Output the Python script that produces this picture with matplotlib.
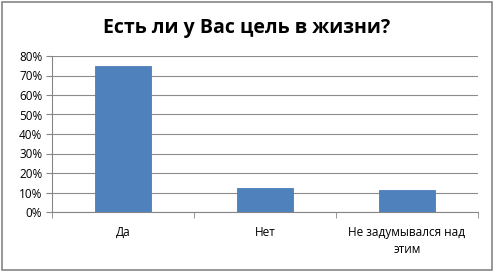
import numpy as np
import matplotlib.pyplot as plt
from matplotlib.patches import Rectangle

categories = ['Да', 'Нет', 'Не задумывался над\nэтим']
values = [75, 12.5, 11.5]

plt.rcParams['font.family'] = ['Open Sans', 'DejaVu Sans']

fig = plt.figure(figsize=(4.94, 2.72), dpi=100)
ax = fig.add_axes([52/494, 1 - 212/272, (478-52)/494, (212-56)/272])

x = np.arange(len(categories))
ax.bar(x, values, width=0.4, color='#4f81bd', edgecolor='#4a7ebb', linewidth=0.6, zorder=3)

ax.set_xlim(-0.5, len(categories) - 0.5)
ax.set_ylim(0, 80)
ax.set_yticks(np.arange(0, 81, 10))
ax.set_yticklabels(['%d%%' % v for v in range(0, 81, 10)], fontsize=8.5)
ax.yaxis.grid(True, color='#8c8c8c', linewidth=0.8, zorder=0)

ax.set_xticks(x)
ax.set_xticklabels(categories, fontsize=8.5, linespacing=1.45)
ax.set_xticks(np.arange(-0.5, len(categories)), minor=True)
ax.tick_params(axis='x', which='major', length=0, pad=10)
ax.tick_params(axis='x', which='minor', length=4, color='#868686', direction='out')
ax.tick_params(axis='y', length=4, color='#868686', pad=3)

for s in ['top', 'right']:
    ax.spines[s].set_visible(False)
ax.spines['left'].set_color('#868686')
ax.spines['bottom'].set_color('#868686')

fig.text(0.5, 1 - 28/272, 'Есть ли у Вас цель в жизни?', ha='center', va='center',
         fontsize=14, fontweight='bold')

fig.patches.append(Rectangle((0.004, 0.006), 0.992, 0.988, transform=fig.transFigure,
                             fill=False, edgecolor='#868686', linewidth=1.2))

fig.savefig('out.png', dpi=100)
